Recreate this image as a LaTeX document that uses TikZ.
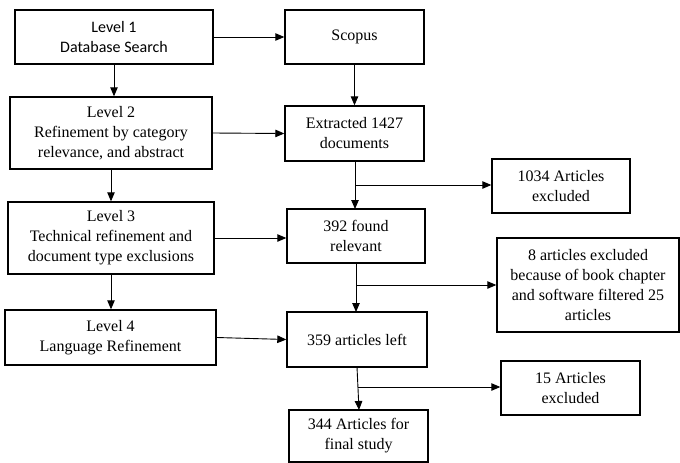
\documentclass[tikz,border=0pt]{standalone}
\usepackage{fontspec}
\setmainfont{Liberation Serif}
\newfontfamily\boxfont{Liberation Serif}
\newfontfamily\levelfont{Carlito}
\usetikzlibrary{arrows.meta}
\begin{document}
\begin{tikzpicture}[x=1pt,y=-1pt,
  box/.style={draw, line width=1.4pt, align=center, inner sep=0pt,
    font=\boxfont\fontsize{16}{20}\selectfont},
  arr/.style={line width=0.9pt, -{Triangle[length=9pt,width=7.5pt]}}]
\useasboundingbox (0,0) rectangle (680,463);
% left column: levels
\node[box, minimum width=198pt, minimum height=54pt, font=\levelfont\fontsize{16}{20}\selectfont] (l1) at (114,37) {Level 1\\Database Search};
\node[box, minimum width=202pt, minimum height=72pt] (l2) at (111,133) {Level 2\\Refinement by category\\relevance, and abstract};
\node[box, minimum width=206pt, minimum height=72pt] (l3) at (111,238) {Level 3\\Technical refinement and\\document type exclusions};
\node[box, minimum width=211pt, minimum height=55pt] (l4) at (110.5,337.5) {Level 4\\Language Refinement};
% middle column: counts
\node[box, minimum width=139pt, minimum height=54pt] (sc) at (354.5,37) {Scopus};
\node[box, minimum width=139pt, minimum height=55pt] (ex) at (354.5,133.5) {Extracted 1427\\documents};
\node[box, minimum width=138pt, minimum height=54pt] (rel) at (356,236) {392 found\\relevant};
\node[box, minimum width=140pt, minimum height=55pt] (left) at (357,339.5) {359 articles left};
\node[box, minimum width=139pt, minimum height=52pt] (fin) at (358.5,436) {344 Articles for\\final study};
% right column: exclusions
\node[box, minimum width=138pt, minimum height=54pt] (x1) at (561,186) {1034 Articles\\excluded};
\node[box, minimum width=182pt, minimum height=94pt] (x2) at (588,285) {8 articles excluded\\because of book chapter\\and software filtered 25\\articles};
\node[box, minimum width=139pt, minimum height=54pt] (x3) at (570.5,388) {15 Articles\\excluded};
% flow arrows
\draw[arr] (l1.east) -- (sc.west);
\draw[arr] (l1.south) -- (l1.south |- l2.north);
\draw[arr] (l2.east) -- (ex.west);
\draw[arr] (l2.south) -- (l2.south |- l3.north);
\draw[arr] (l3.east) -- (l3.east -| rel.west);
\draw[arr] (l3.south) -- (l3.south |- l4.north);
\draw[arr] (l4.east) -- (left.west);
\draw[arr] (sc.south) -- (sc.south |- ex.north);
\draw[arr] (355,161) -- (355,209);
\draw[arr] (356,263) -- (356,312);
\draw[arr] (357,367) -- (359,410);
% branches to exclusions
\coordinate (b1) at (355,185);
\coordinate (b2) at (356,285);
\coordinate (b3) at (358,387);
\draw[arr] (b1) -- (b1 -| x1.west);
\draw[arr] (b2) -- (b2 -| x2.west);
\draw[arr] (b3) -- (b3 -| x3.west);
\end{tikzpicture}
\end{document}
